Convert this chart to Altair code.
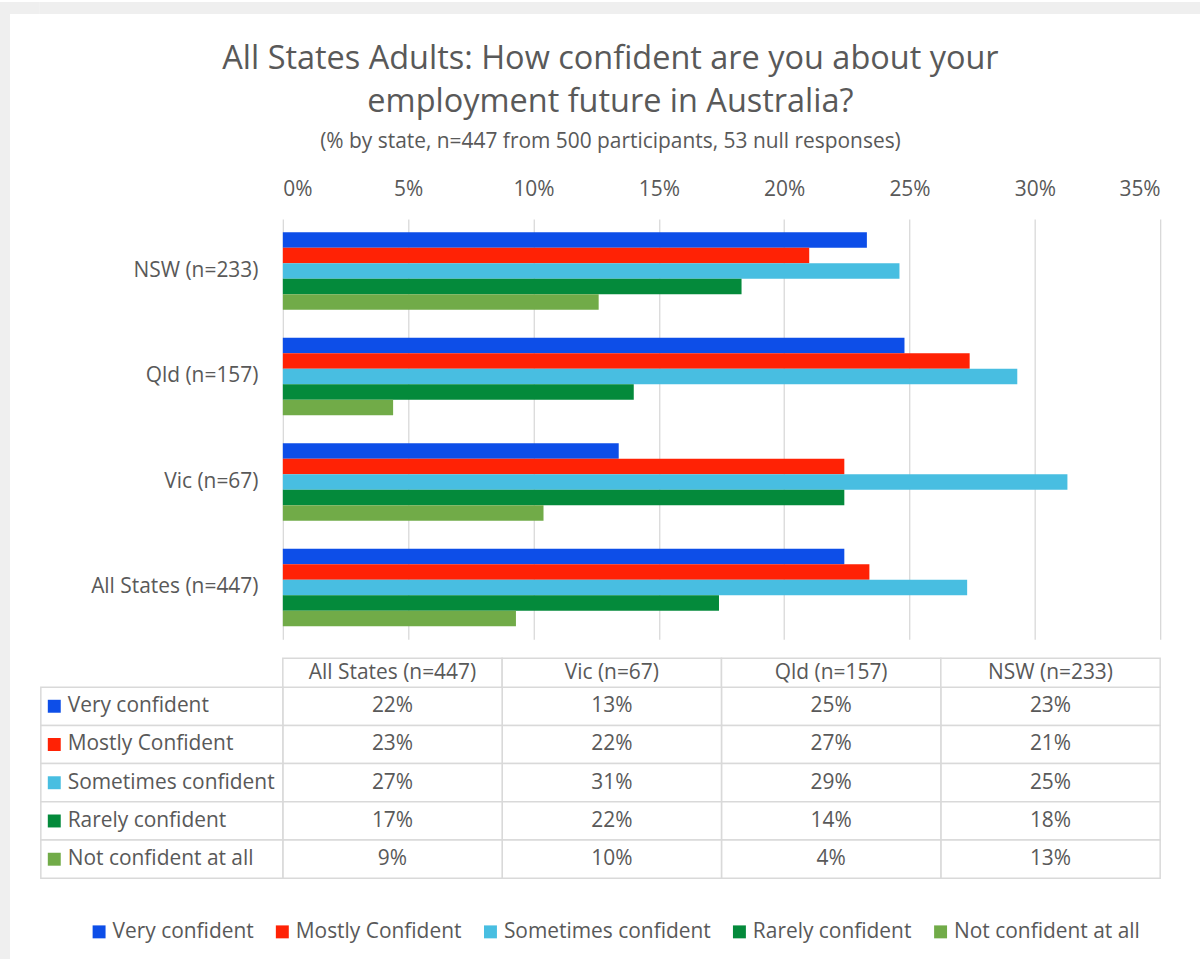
import altair as alt
import pandas as pd

FONT = "Open Sans"
TXT = "#595959"
GRID = "#d9d9d9"
BG = "#efefef"

# ---- data ----
states = ["NSW (n=233)", "Qld (n=157)", "Vic (n=67)", "All States (n=447)"]  # chart order, top to bottom
table_cols = ["All States (n=447)", "Vic (n=67)", "Qld (n=157)", "NSW (n=233)"]
levels = ["Very confident", "Mostly Confident", "Sometimes confident",
          "Rarely confident", "Not confident at all"]
colors = ["#0d4ee8", "#ff2205", "#48bee1", "#048a3b", "#71ab48"]

# values per state, in `states` order
very = [0.233, 0.248, 0.134, 0.224]
mostly = [0.210, 0.274, 0.224, 0.234]
sometimes = [0.246, 0.293, 0.313, 0.273]
rarely = [0.183, 0.140, 0.224, 0.174]
not_at_all = [0.126, 0.044, 0.104, 0.093]
tick_values = [0, 0.05, 0.10, 0.15, 0.20, 0.25, 0.30, 0.35]

title_lines = ["All States Adults: How confident are you about your",
               "employment future in Australia?"]
subtitle = "(% by state, n=447 from 500 participants, 53 null responses)"

series = [very, mostly, sometimes, rarely, not_at_all]
rows = []
for lvl, vals in zip(levels, series):
    for st, v in zip(states, vals):
        rows.append({"state": st, "level": lvl, "value": v})
df = pd.DataFrame(rows)
cells = df.rename(columns={"state": "col"})
hdr = pd.DataFrame({"col": table_cols, "hdr": ["h"] * len(table_cols)})
lab = pd.DataFrame({"level": levels, "lab": ["L"] * len(levels)})

# ---- sizes ----
PW, PH = 881, 422
LABW = 243
HDRH, ROWH = 29, 38.4
TH = HDRH + ROWH * len(levels)
FS = 21

cscale = alt.Scale(domain=levels, range=colors)

bar = alt.Chart(df).mark_bar().encode(
    x=alt.X("value:Q", scale=alt.Scale(domain=[0, 0.35], nice=False, zero=True),
            axis=alt.Axis(orient="top", values=tick_values, format=".0%", grid=True,
                          gridColor=GRID, gridWidth=1.3, domain=False, ticks=False, tickSize=0,
                          labelFont=FONT, labelFontSize=FS, labelColor=TXT,
                          labelPadding=20, title=None)),
    y=alt.Y("state:N", sort=states,
            scale=alt.Scale(domain=states, paddingInner=0.265, paddingOuter=0.125),
            axis=alt.Axis(domain=False, ticks=False, tickSize=0, labelPadding=25,
                          labelFont=FONT, labelFontSize=FS, labelColor=TXT, title=None)),
    yOffset=alt.YOffset("level:N", sort=levels, scale=alt.Scale(domain=levels)),
    color=alt.Color("level:N", scale=cscale,
                    legend=alt.Legend(orient="none", legendX=89, legendY=923,
                                      direction="horizontal", title=None,
                                      symbolType="square", symbolSize=169,
                                      symbolStrokeWidth=0, symbolOpacity=1,
                                      labelFont=FONT, labelFontSize=FS, labelColor=TXT,
                                      labelLimit=500, labelOffset=3, columnPadding=18,
                                      padding=0)),
).properties(width=PW, height=PH)

xcol = alt.X("col:N", scale=alt.Scale(domain=table_cols, range=[0, PW],
                                      paddingInner=0, paddingOuter=0), axis=None)
ybody = alt.Y("level:N", scale=alt.Scale(domain=levels, range=[HDRH, TH],
                                         paddingInner=0, paddingOuter=0), axis=None)
yhdr = alt.Y("hdr:N", scale=alt.Scale(domain=["h"], range=[0, HDRH],
                                      paddingInner=0, paddingOuter=0), axis=None)
xlab = alt.X("lab:N", scale=alt.Scale(domain=["L"], range=[-LABW, 0],
                                      paddingInner=0, paddingOuter=0), axis=None)

cell_style = dict(fill="white", stroke=GRID, strokeWidth=1.5)
text_style = dict(font=FONT, fontSize=FS, color=TXT)

body_rect = alt.Chart(cells).mark_rect(**cell_style).encode(x=xcol, y=ybody)
body_text = alt.Chart(cells).mark_text(**text_style).encode(
    x=xcol, y=ybody, text=alt.Text("value:Q", format=".0%"))
hdr_rect = alt.Chart(hdr).mark_rect(**cell_style).encode(x=xcol, y=yhdr)
hdr_text = alt.Chart(hdr).mark_text(**text_style).encode(x=xcol, y=yhdr, text="col:N")
lab_rect = alt.Chart(lab).mark_rect(**cell_style).encode(x=xlab, y=ybody)
lab_sq = alt.Chart(lab).mark_square(size=169, opacity=1, xOffset=-LABW / 2 + 13.5).encode(
    x=xlab, y=ybody, color=alt.Color("level:N", scale=cscale, legend=None))
lab_text = alt.Chart(lab).mark_text(align="left", dx=-LABW / 2 + 27, **text_style).encode(
    x=xlab, y=ybody, text="level:N")

table = alt.layer(body_rect, body_text, hdr_rect, hdr_text, lab_rect, lab_sq, lab_text).resolve_scale(
    x="independent", y="independent").properties(width=PW, height=TH)

main = alt.vconcat(bar, table, spacing=19, bounds="flush").properties(
    title=alt.TitleParams(text=title_lines, subtitle=subtitle, anchor="middle", dx=10,
                          font=FONT, fontSize=32.6, fontWeight="normal", color=TXT,
                          lineHeight=43, subtitleFont=FONT, subtitleFontSize=21,
                          subtitleColor=TXT, subtitlePadding=13, offset=26))

one = pd.DataFrame({"a": [0]})
left_strip = alt.layer(
    alt.Chart(one).mark_rect(color=BG).encode(x=alt.value(0), x2=alt.value(10),
                                              y=alt.value(0), y2=alt.value(961)),
    alt.Chart(one).mark_rect(color=BG).encode(x=alt.value(0), x2=alt.value(40),
                                              y=alt.value(0), y2=alt.value(12)),
).properties(width=40, height=961)
top_strip = alt.Chart(one).mark_rect(color=BG).encode(
    x=alt.value(-LABW - 1), x2=alt.value(PW + 40), y=alt.value(0), y2=alt.value(12)
).properties(width=PW, height=12)

inner = alt.vconcat(top_strip, main, spacing=29)
chart = alt.hconcat(left_strip, inner, spacing=0).properties(
    padding=0, background="white"
).configure_view(strokeWidth=0).configure_concat(spacing=0)

chart.save("out.html", embed_options={"renderer": "svg", "actions": False})
